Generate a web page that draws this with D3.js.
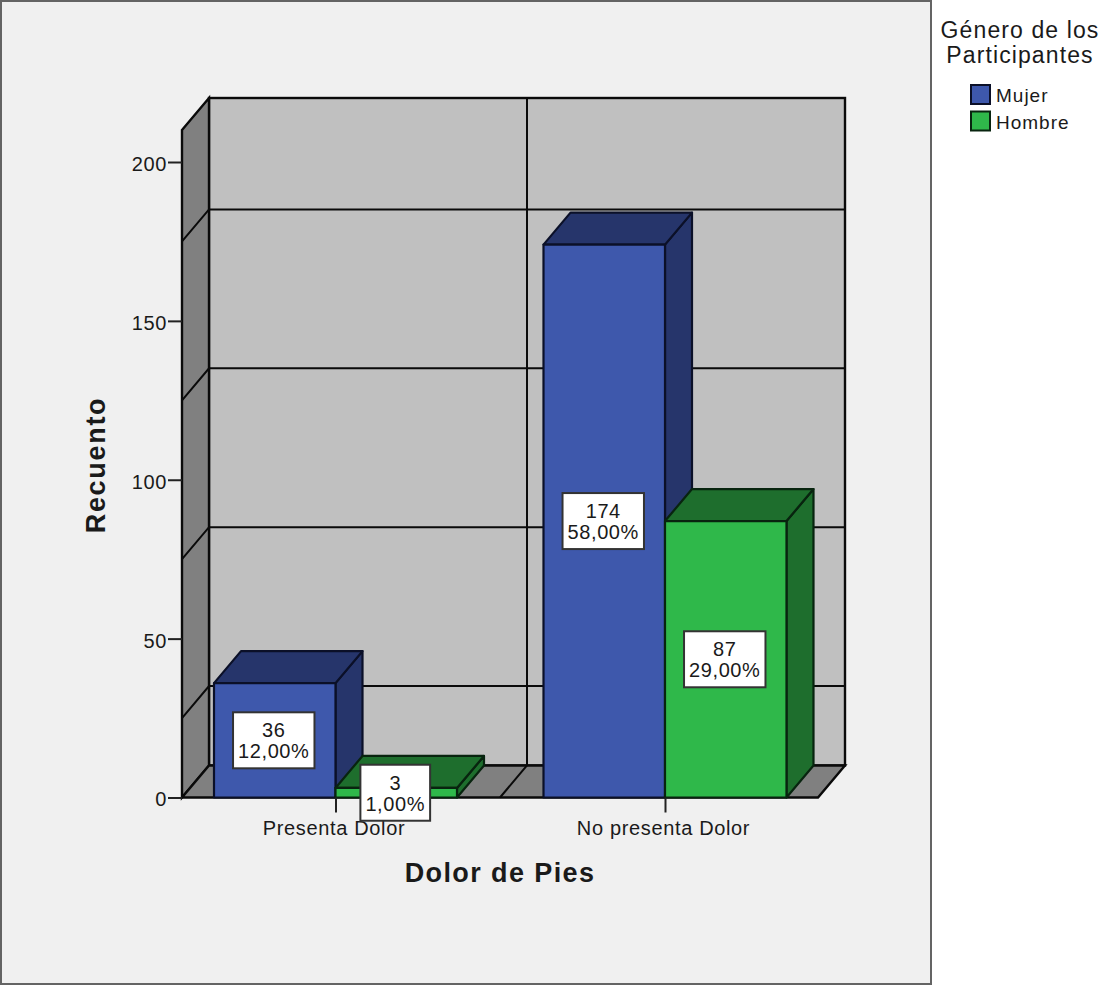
<!DOCTYPE html>
<html>
<head>
<meta charset="utf-8">
<script src="https://cdn.jsdelivr.net/npm/d3@7"></script>
<style>
html, body { margin: 0; padding: 0; background: #fff; }
svg { display: block; }
text { font-family: "Liberation Sans", Arial, sans-serif; fill: #1a1a1a; }
</style>
</head>
<body>
<svg id="chart" width="1102" height="985"></svg>
<script>
// Chart values
const categories = ["Presenta Dolor", "No presenta Dolor"];
const seriesNames = ["Mujer", "Hombre"];
const mujerCounts = [36, 174];
const hombreCounts = [3, 87];
const mujerPercents = ["12,00%", "58,00%"];
const hombrePercents = ["1,00%", "29,00%"];
const yTicks = [0, 50, 100, 150, 200];
const minorGrid = [25, 75, 125, 175];

const xTitle = "Dolor de Pies";
const yTitle = "Recuento";
const legendTitle = ["Género de los", "Participantes"];

// Colours: front face, shaded faces
const faceColors = { Mujer: "#3e58ac", Hombre: "#2fb84a" };
const shadeColors = { Mujer: "#26356b", Hombre: "#1e6e2d" };
const edgeColors = { Mujer: "#0b1028", Hombre: "#08240f" };

const svg = d3.select("#chart");

// Plot frame and projection depth of the 3D box
const plot = { left: 182, right: 818, bottom: 797.5, top: 130 };
const depth = { dx: 27, dy: -32 };
const ink = "#0a0a0a";
const axisFont = '"Liberation Sans", Arial, sans-serif';

const y = d3.scaleLinear().domain([0, 200]).range([plot.bottom, 162]);
const x = d3.scalePoint().domain(categories).range([335.5, 665]);
const barWidth = 121.5;
const wallDivider = 500;

const poly = pts => pts.map(p => p.join(",")).join(" ");

// Chart background panel
svg.append("rect").attr("x", 1).attr("y", 1).attr("width", 930).attr("height", 983)
  .attr("fill", "#f0f0f0").attr("stroke", "#646464").attr("stroke-width", 2);

const walls = svg.append("g");

// Back wall
walls.append("rect")
  .attr("x", plot.left + depth.dx).attr("y", plot.top + depth.dy)
  .attr("width", plot.right - plot.left).attr("height", plot.bottom - plot.top)
  .attr("fill", "#c0c0c0").attr("stroke", ink).attr("stroke-width", 2.4);

// Side wall
walls.append("polygon")
  .attr("points", poly([
    [plot.left, plot.top], [plot.left + depth.dx, plot.top + depth.dy],
    [plot.left + depth.dx, plot.bottom + depth.dy], [plot.left, plot.bottom]
  ]))
  .attr("fill", "#808080").attr("stroke", ink).attr("stroke-width", 2.4);

// Floor
walls.append("polygon")
  .attr("points", poly([
    [plot.left, plot.bottom], [plot.left + depth.dx, plot.bottom + depth.dy],
    [plot.right + depth.dx, plot.bottom + depth.dy], [plot.right, plot.bottom]
  ]))
  .attr("fill", "#808080").attr("stroke", ink).attr("stroke-width", 2.4);

// Gridlines across the back wall, continuing diagonally down the side wall
const grid = walls.append("g").attr("stroke", ink).attr("stroke-width", 2).attr("fill", "none");
grid.selectAll("polyline").data(minorGrid).join("polyline")
  .attr("points", d => poly([
    [plot.left, y(d)], [plot.left + depth.dx, y(d) + depth.dy],
    [plot.right + depth.dx, y(d) + depth.dy]
  ]));

// Divider between the two categories on back wall and floor
grid.append("polyline").attr("points", poly([
  [wallDivider + depth.dx, plot.top + depth.dy],
  [wallDivider + depth.dx, plot.bottom + depth.dy],
  [wallDivider, plot.bottom]
]));

// Axes
const yAxis = d3.axisLeft(y).tickValues(yTicks).tickSize(14).tickPadding(1).tickFormat(d3.format("d"));
const gy = svg.append("g").attr("transform", `translate(${plot.left},0)`).call(yAxis);
gy.select(".domain").remove();
gy.selectAll("line").attr("stroke", "#222").attr("stroke-width", 2);
gy.selectAll("text")
  .attr("font-size", 20).attr("letter-spacing", 0.6).attr("y", 2)
  .style("font-family", axisFont).attr("fill", "#1a1a1a");

const xAxis = d3.axisBottom(x).tickSize(15).tickPadding(8);
const gx = svg.append("g").attr("transform", `translate(0,${plot.bottom})`).call(xAxis);
gx.select(".domain").remove();
gx.selectAll("line").attr("stroke", "#222").attr("stroke-width", 2);
gx.selectAll("text")
  .attr("font-size", 20).attr("letter-spacing", 0.65).attr("x", -2)
  .style("font-family", axisFont).attr("fill", "#1a1a1a");

// One record per bar, built from the arrays above
const bars = [];
categories.forEach((c, i) => {
  bars.push({ cat: c, series: "Mujer", value: mujerCounts[i], pct: mujerPercents[i], side: -1 });
  bars.push({ cat: c, series: "Hombre", value: hombreCounts[i], pct: hombrePercents[i], side: 0 });
});

// 3D bars: side and top faces first, then the front face
const barG = svg.append("g").selectAll("g").data(bars).join("g")
  .attr("stroke", d => edgeColors[d.series]).attr("stroke-width", 2.2).attr("stroke-linejoin", "round");

const bx0 = d => x(d.cat) + d.side * barWidth;

barG.append("polygon").attr("fill", d => shadeColors[d.series])
  .attr("points", d => {
    const xr = bx0(d) + barWidth, t = y(d.value);
    return poly([[xr, t], [xr + depth.dx, t + depth.dy], [xr + depth.dx, plot.bottom + depth.dy], [xr, plot.bottom]]);
  });
barG.append("polygon").attr("fill", d => shadeColors[d.series])
  .attr("points", d => {
    const xl = bx0(d), t = y(d.value);
    return poly([[xl, t], [xl + depth.dx, t + depth.dy], [xl + barWidth + depth.dx, t + depth.dy], [xl + barWidth, t]]);
  });
barG.append("rect").attr("fill", d => faceColors[d.series])
  .attr("x", bx0).attr("y", d => y(d.value))
  .attr("width", barWidth).attr("height", d => plot.bottom - y(d.value));

// Tick marks stay visible where two bars meet
gx.raise();

// Value labels in white boxes, centred on half the bar height
const labelG = svg.append("g").selectAll("g").data(bars).join("g")
  .attr("transform", d => `translate(${bx0(d) + barWidth / 2 - 1},${y(d.value / 2)})`);

labelG.append("rect")
  .attr("fill", "#fff").attr("stroke", "#333").attr("stroke-width", 2);
labelG.append("text").attr("text-anchor", "middle").attr("font-size", 20).attr("letter-spacing", 0.6).attr("y", -3)
  .text(d => d.value);
labelG.append("text").attr("text-anchor", "middle").attr("font-size", 20).attr("letter-spacing", 0.6).attr("y", 18)
  .text(d => d.pct);
labelG.each(function () {
  const g = d3.select(this);
  const w = d3.max(g.selectAll("text").nodes(), n => n.getComputedTextLength()) + 10;
  g.select("rect").attr("x", -w / 2).attr("y", -28).attr("width", w).attr("height", 56);
});

// Axis titles
svg.append("text").attr("x", 500).attr("y", 882).attr("text-anchor", "middle")
  .attr("font-size", 27).attr("letter-spacing", 1.4).attr("font-weight", "bold").text(xTitle);
svg.append("text").attr("transform", "translate(105,465) rotate(-90)").attr("text-anchor", "middle")
  .attr("font-size", 27).attr("letter-spacing", 1.7).attr("font-weight", "bold").text(yTitle);

// Legend
svg.append("g").selectAll("text").data(legendTitle).join("text")
  .attr("x", 1020).attr("y", (d, i) => 38 + i * 25).attr("text-anchor", "middle")
  .attr("font-size", 23).attr("letter-spacing", 1.1).text(d => d);

const legend = svg.append("g").selectAll("g").data(seriesNames).join("g")
  .attr("transform", (d, i) => `translate(971,${85 + i * 26.5})`);
legend.append("rect").attr("width", 19).attr("height", 19)
  .attr("fill", d => faceColors[d]).attr("stroke", d => edgeColors[d]).attr("stroke-width", 2);
legend.append("text").attr("x", 25).attr("y", 17).attr("font-size", 19).attr("letter-spacing", 1).text(d => d);
</script>
</body>
</html>
